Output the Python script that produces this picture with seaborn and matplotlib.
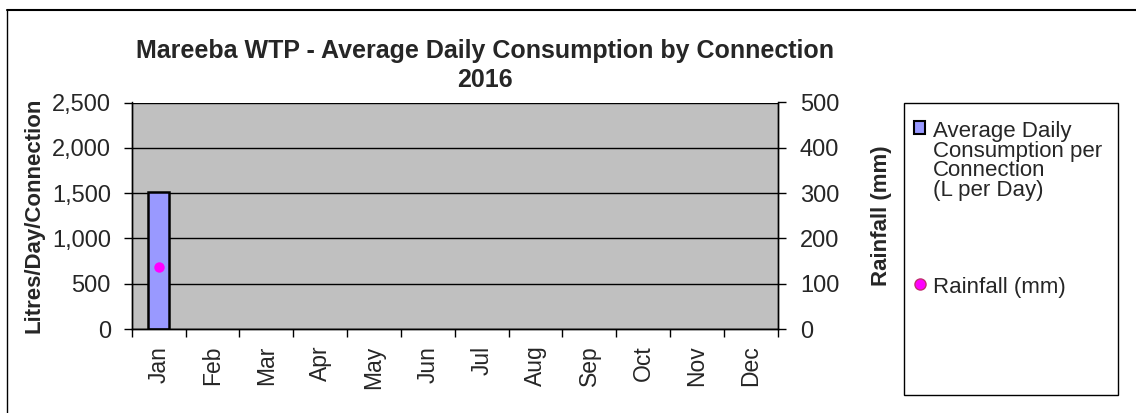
import pandas as pd
import matplotlib.pyplot as plt
import seaborn as sns
from matplotlib.patches import Patch, Rectangle
from matplotlib.lines import Line2D
from matplotlib.ticker import FuncFormatter, FixedLocator

# Data
months = ["Jan", "Feb", "Mar", "Apr", "May", "Jun",
          "Jul", "Aug", "Sep", "Oct", "Nov", "Dec"]
consumption_months = ["Jan"]
consumption = [1510]          # L/day/connection
rain_months = ["Jan"]
rainfall = [137]              # mm
left_ticks = [0, 500, 1000, 1500, 2000, 2500]
right_ticks = [0, 100, 200, 300, 400, 500]

W, H = 1136, 413
FS_H = 17      # horizontal tick text
FS_V = 16.5    # rotated month labels
FS_LAB = 16    # axis titles
FS_LEG = 16

sns.set_style("white")
plt.rcParams["font.family"] = ["Liberation Sans", "DejaVu Sans"]

fig = plt.figure(figsize=(W / 100, H / 100), dpi=100)
ax = fig.add_axes([131.7 / W, 1 - 329 / H, (777.7 - 131.7) / W, (329 - 102.5) / H])
ax.set_facecolor("#C0C0C0")

cons_df = pd.DataFrame({"month": consumption_months, "consumption": consumption})
rain_df = pd.DataFrame({"month": rain_months, "rainfall": rainfall})

sns.barplot(data=cons_df, x="month", y="consumption", order=months, ax=ax,
            color="#9999FF", saturation=1, edgecolor="black", linewidth=1.8,
            width=0.4)

ax.set_ylim(0, 2500)
ax.yaxis.set_major_locator(FixedLocator(left_ticks))
ax.yaxis.set_major_formatter(FuncFormatter(lambda v, p: f"{v:,.0f}"))
ax.yaxis.grid(True, color="black", lw=1)
ax.set_axisbelow(True)

ax2 = ax.twinx()
sns.stripplot(data=rain_df, x="month", y="rainfall", order=months, ax=ax2,
              color="#FF00FF", size=7.5, jitter=False, linewidth=0)
ax2.set_ylim(0, 500)
ax2.yaxis.set_major_locator(FixedLocator(right_ticks))
ax.set_xlim(-0.5, 11.5)

# x ticks at category boundaries, labels at centres
ax.set_xticks(range(12))
ax.set_xticklabels(months, rotation=90, fontsize=FS_V)
ax.set_xticks([i - 0.5 for i in range(13)], minor=True)
ax.tick_params(axis="x", which="major", length=0, pad=12)
ax.tick_params(axis="x", which="minor", length=6, width=1, color="black", direction="out", bottom=True)
ax.tick_params(axis="y", length=6, width=1, color="black", direction="out", left=True, labelsize=FS_H, pad=9)
ax2.tick_params(axis="y", length=6, width=1, color="black", direction="out", right=True, labelsize=FS_H, pad=10)

for a in (ax, ax2):
    for s in a.spines.values():
        s.set_color("black")
        s.set_linewidth(1)
    a.spines["top"].set_visible(False)

ax.set_xlabel("")
ax.set_ylabel("Litres/Day/Connection", fontsize=FS_LAB, fontweight="bold")
ax.yaxis.set_label_coords((45 - 131.7) / (777.7 - 131.7), 0.5)
ax2.set_ylabel("Rainfall (mm)", fontsize=FS_LAB, fontweight="bold")
ax2.yaxis.set_label_coords((871 - 131.7) / (777.7 - 131.7), 0.5)

# Title
fig.text(485 / W, 1 - 51 / H, "Mareeba WTP - Average Daily Consumption by Connection",
         ha="center", va="center", fontsize=18, fontweight="bold")
fig.text(485 / W, 1 - 80 / H, "2016", ha="center", va="center", fontsize=18, fontweight="bold")

# Outer frame lines
fig.add_artist(Line2D([7 / W, 7 / W], [0, 1 - 10 / H], color="black", lw=1))
fig.add_artist(Line2D([7 / W, 1], [1 - 10 / H, 1 - 10 / H], color="black", lw=1.5))

# Legend box
fig.add_artist(Rectangle((904 / W, 1 - 395 / H), (1118 - 904) / W, (395 - 103) / H,
                         transform=fig.transFigure, facecolor="white",
                         edgecolor="black", lw=1))
handles = [Patch(facecolor="#9999FF", edgecolor="black", lw=1.5),
           Line2D([], [], marker="o", ls="", markerfacecolor="#FF00FF",
                  markeredgecolor="#C03070", markersize=8)]
labels = ["Average Daily\nConsumption per\nConnection\n(L per Day)", "Rainfall (mm)"]
leg = fig.legend(handles, labels, loc="upper left", bbox_to_anchor=(914 / W, 1 - 121 / H),
                 frameon=False, fontsize=FS_LEG, handlelength=0.5, handleheight=0.5,
                 handletextpad=0.35, labelspacing=3.4, borderpad=0, borderaxespad=0)
for t in leg.get_texts():
    t.set_linespacing(0.92)
for col in leg._legend_handle_box.get_children():
    for hp in col.get_children():
        hp.align = "top"

fig.savefig("out.png", dpi=100)
